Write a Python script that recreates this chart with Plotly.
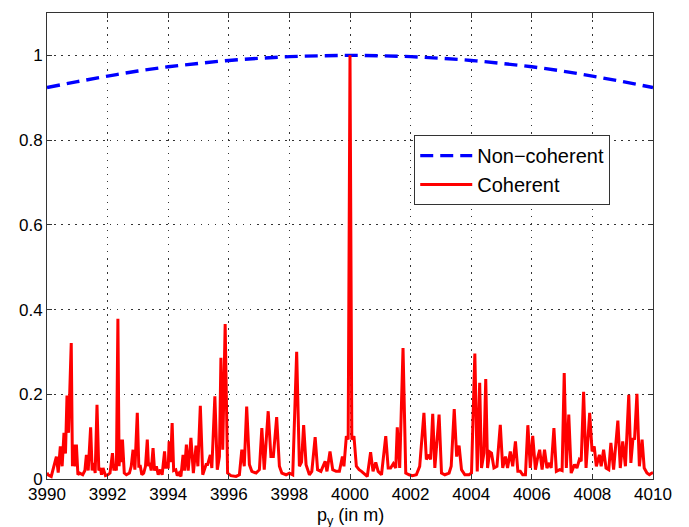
import plotly.graph_objects as go

# Non-coherent curve (read at integer positions)
nc_x = [3990, 3991, 3992, 3993, 3994, 3995, 3996, 3997, 3998, 3999, 4000,
        4001, 4002, 4003, 4004, 4005, 4006, 4007, 4008, 4009, 4010]
nc_y = [0.924, 0.938, 0.951, 0.963, 0.973, 0.981, 0.988, 0.993, 0.997, 0.999, 1.000,
        0.999, 0.997, 0.993, 0.988, 0.981, 0.973, 0.963, 0.951, 0.938, 0.924]

# Coherent curve (peaks and troughs)
co_x = [3990.00, 3990.03, 3990.14, 3990.31, 3990.37, 3990.44, 3990.50, 3990.56, 3990.61, 3990.66,
        3990.71, 3990.80, 3990.84, 3990.88, 3990.93, 3990.97, 3991.02, 3991.08, 3991.18, 3991.25,
        3991.30, 3991.36, 3991.44, 3991.49, 3991.54, 3991.59, 3991.65, 3991.71, 3991.76, 3991.80,
        3991.85, 3991.93, 3992.01, 3992.08, 3992.16, 3992.21, 3992.24, 3992.29, 3992.34, 3992.38,
        3992.42, 3992.45, 3992.49, 3992.55, 3992.62, 3992.72, 3992.78, 3992.84, 3992.90, 3992.98,
        3993.03, 3993.08, 3993.13, 3993.19, 3993.25, 3993.31, 3993.35, 3993.39, 3993.44, 3993.50,
        3993.55, 3993.61, 3993.67, 3993.74, 3993.80, 3993.88, 3993.92, 3993.96, 3994.00, 3994.03,
        3994.08, 3994.13, 3994.18, 3994.25, 3994.30, 3994.36, 3994.42, 3994.49, 3994.54, 3994.60,
        3994.66, 3994.75, 3994.83, 3994.92, 3994.98, 3995.06, 3995.14, 3995.25, 3995.30, 3995.39,
        3995.44, 3995.54, 3995.62, 3995.69, 3995.74, 3995.80, 3995.88, 3995.96, 3996.07, 3996.24,
        3996.35, 3996.43, 3996.51, 3996.59, 3996.68, 3996.76, 3996.90, 3997.01, 3997.09, 3997.17,
        3997.30, 3997.39, 3997.47, 3997.58, 3997.67, 3997.75, 3997.89, 3998.00, 3998.11, 3998.24,
        3998.33, 3998.40, 3998.47, 3998.55, 3998.66, 3998.74, 3998.85, 3998.93, 3999.04, 3999.18,
        3999.24, 3999.34, 3999.43, 3999.54, 3999.65, 3999.75, 3999.80, 3999.88, 3999.94, 4000.00,
        4000.06, 4000.13, 4000.21, 4000.30, 4000.38, 4000.49, 4000.57, 4000.68, 4000.76, 4000.85,
        4000.93, 4001.04, 4001.18, 4001.26, 4001.34, 4001.43, 4001.51, 4001.56, 4001.64, 4001.75,
        4001.84, 4001.95, 4002.06, 4002.19, 4002.30, 4002.44, 4002.52, 4002.61, 4002.66, 4002.73,
        4002.80, 4002.94, 4003.02, 4003.13, 4003.27, 4003.34, 4003.44, 4003.52, 4003.60, 4003.68,
        4003.79, 4003.93, 4004.01, 4004.12, 4004.20, 4004.28, 4004.34, 4004.42, 4004.48, 4004.54,
        4004.61, 4004.67, 4004.75, 4004.85, 4004.96, 4005.04, 4005.13, 4005.20, 4005.29, 4005.37,
        4005.46, 4005.54, 4005.62, 4005.70, 4005.79, 4005.87, 4005.95, 4006.03, 4006.12, 4006.19,
        4006.26, 4006.34, 4006.42, 4006.50, 4006.58, 4006.64, 4006.73, 4006.81, 4006.92, 4007.00,
        4007.07, 4007.14, 4007.22, 4007.30, 4007.41, 4007.49, 4007.57, 4007.63, 4007.71, 4007.79,
        4007.91, 4007.99, 4008.06, 4008.13, 4008.23, 4008.29, 4008.37, 4008.45, 4008.54, 4008.61,
        4008.70, 4008.84, 4008.92, 4009.00, 4009.09, 4009.20, 4009.27, 4009.34, 4009.39, 4009.47,
        4009.55, 4009.64, 4009.71, 4009.80, 4009.88, 4009.96, 4010.00]
co_y = [0.015, 0.010, 0.006, 0.053, 0.015, 0.077, 0.030, 0.109, 0.060, 0.197,
        0.109, 0.321, 0.030, 0.081, 0.030, 0.081, 0.010, 0.014, 0.010, 0.020,
        0.057, 0.020, 0.122, 0.020, 0.038, 0.014, 0.175, 0.020, 0.026, 0.010,
        0.026, 0.008, 0.010, 0.014, 0.061, 0.020, 0.030, 0.020, 0.378, 0.030,
        0.093, 0.040, 0.093, 0.014, 0.010, 0.014, 0.030, 0.069, 0.022, 0.156,
        0.030, 0.030, 0.010, 0.014, 0.030, 0.093, 0.030, 0.038, 0.020, 0.073,
        0.020, 0.030, 0.010, 0.022, 0.010, 0.065, 0.025, 0.038, 0.025, 0.089,
        0.040, 0.132, 0.020, 0.022, 0.008, 0.014, 0.006, 0.057, 0.020, 0.081,
        0.020, 0.097, 0.014, 0.079, 0.030, 0.173, 0.010, 0.034, 0.034, 0.057,
        0.026, 0.195, 0.022, 0.053, 0.286, 0.069, 0.366, 0.014, 0.008, 0.006,
        0.010, 0.069, 0.030, 0.171, 0.034, 0.018, 0.014, 0.022, 0.120, 0.022,
        0.160, 0.053, 0.053, 0.146, 0.030, 0.014, 0.010, 0.014, 0.010, 0.300,
        0.030, 0.040, 0.127, 0.034, 0.010, 0.018, 0.099, 0.022, 0.018, 0.042,
        0.018, 0.065, 0.022, 0.018, 0.018, 0.053, 0.030, 0.101, 0.093, 1.000,
        0.093, 0.101, 0.030, 0.022, 0.018, 0.010, 0.006, 0.063, 0.018, 0.039,
        0.018, 0.010, 0.101, 0.026, 0.026, 0.036, 0.026, 0.122, 0.026, 0.309,
        0.014, 0.010, 0.008, 0.010, 0.030, 0.156, 0.046, 0.057, 0.046, 0.154,
        0.026, 0.152, 0.014, 0.010, 0.014, 0.030, 0.165, 0.053, 0.079, 0.022,
        0.010, 0.010, 0.014, 0.296, 0.018, 0.227, 0.026, 0.061, 0.236, 0.026,
        0.064, 0.061, 0.026, 0.030, 0.128, 0.026, 0.053, 0.026, 0.065, 0.030,
        0.089, 0.018, 0.018, 0.010, 0.010, 0.127, 0.026, 0.102, 0.022, 0.049,
        0.069, 0.022, 0.069, 0.026, 0.038, 0.026, 0.120, 0.018, 0.022, 0.020,
        0.250, 0.026, 0.152, 0.014, 0.034, 0.026, 0.046, 0.042, 0.206, 0.026,
        0.156, 0.065, 0.077, 0.030, 0.057, 0.030, 0.069, 0.026, 0.022, 0.085,
        0.022, 0.138, 0.026, 0.089, 0.030, 0.199, 0.038, 0.097, 0.093, 0.201,
        0.030, 0.093, 0.026, 0.014, 0.010, 0.014, 0.015]

x_ticks = [3990, 3992, 3994, 3996, 3998, 4000, 4002, 4004, 4006, 4008, 4010]
y_ticks = [0, 0.2, 0.4, 0.6, 0.8, 1.0]
y_ticktext = ["0", "0.2", "0.4", "0.6", "0.8", "1"]
x_title = "p<sub>y</sub> (in m)"

FONT = "Liberation Sans, Arial, sans-serif"

fig = go.Figure()
fig.add_trace(go.Scatter(
    x=nc_x, y=nc_y, mode="lines", name="Non\u2212coherent",
    line=dict(color="#0000ff", width=3.4, dash="13px,7px", shape="spline")))
fig.add_trace(go.Scatter(
    x=co_x, y=co_y, mode="lines", name="Coherent",
    line=dict(color="#ff0000", width=3.0)))

axis_common = dict(
    showgrid=True, gridcolor="#333333", griddash="1.5px,5.5px", gridwidth=1,
    showline=True, linecolor="#333333", linewidth=1, mirror="ticks",
    ticks="inside", ticklen=5, tickcolor="#333333", zeroline=False,
    tickfont=dict(family=FONT, size=17, color="#000000"),
)

fig.update_xaxes(range=[3990, 4010], tickvals=x_ticks, **axis_common)
fig.update_yaxes(range=[0, 1.1], tickvals=y_ticks, ticktext=y_ticktext, **axis_common)

fig.add_annotation(text=x_title, xref="paper", yref="paper", x=0.5, y=-0.051,
                   xanchor="center", yanchor="top", showarrow=False,
                   font=dict(family=FONT, size=18, color="#000000"))

fig.update_layout(
    width=689, height=527,
    margin=dict(l=47, r=36, t=13, b=48),
    paper_bgcolor="white", plot_bgcolor="white",
    font=dict(family=FONT, color="#000000"),
    legend=dict(x=0.606, y=0.738, xanchor="left", yanchor="top",
                bgcolor="white", bordercolor="#333333", borderwidth=1,
                font=dict(family=FONT, size=20, color="#000000"),
                tracegroupgap=0, itemwidth=52),
    showlegend=True,
)

fig.write_html("out.html",
               config={"displayModeBar": False},
               post_script="document.body.style.margin='0px';document.body.style.overflow='hidden';")
